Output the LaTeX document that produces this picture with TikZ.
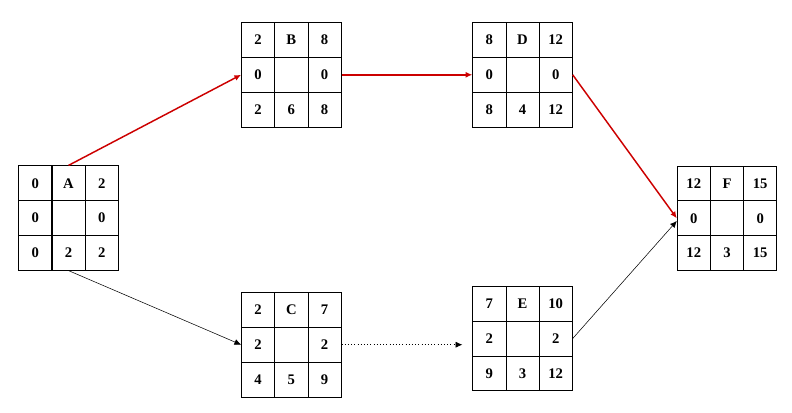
\documentclass[tikz,border=0pt]{standalone}
\usepackage{fontspec}
\setmainfont{Liberation Serif}
\usetikzlibrary{matrix,arrows.meta}
\definecolor{critred}{RGB}{204,0,0}
\tikzset{
  actbox/.style={matrix of nodes, nodes in empty cells, inner sep=0pt, outer sep=0pt,
    column sep=-0.6pt, row sep=-0.6pt,
    nodes={draw=black, line width=0.6pt, minimum width=24.9pt, minimum height=26.1pt,
      inner sep=0pt, anchor=center, font=\fontsize{11}{13}\selectfont\bfseries}},
  crit/.style={-{Latex[length=5pt,width=4.5pt]}, draw=critred, line width=1.1pt},
  link/.style={-{Latex[length=5pt,width=4.5pt]}, draw=black, line width=0.4pt}
}
\begin{document}
\begin{tikzpicture}[x=0.75pt, y=-0.75pt]
\useasboundingbox (0,0) rectangle (792,413);

\matrix (A) [actbox] at (68.5,218)  {0 & A & 2\\ 0 & & 0\\ 0 & 2 & 2\\};
\matrix (B) [actbox] at (291.3,74.8) {2 & B & 8\\ 0 & & 0\\ 2 & 6 & 8\\};
\matrix (C) [actbox] at (291.3,344.7) {2 & C & 7\\ 2 & & 2\\ 4 & 5 & 9\\};
\matrix (D) [actbox] at (522.5,74.8) {8 & D & 12\\ 0 & & 0\\ 8 & 4 & 12\\};
\matrix (E) [actbox] at (522.5,338.5) {7 & E & 10\\ 2 & & 2\\ 9 & 3 & 12\\};
\matrix (F) [actbox] at (727,218.3) {12 & F & 15\\ 0 & & 0\\ 12 & 3 & 15\\};

% critical path
\draw [crit] (A.north) -- (B.west);
\draw [crit] (B.east) -- (D.west);
\draw [crit] (D.east) -- (F.west);

% other links
\draw [link] (A.south) -- (C.west);
\draw [link, dotted, shorten >=7.5pt] (C.east) -- (C.east -| E.west);
\draw [link] (E.east) -- ([yshift=-2pt]F.west);
\end{tikzpicture}
\end{document}
